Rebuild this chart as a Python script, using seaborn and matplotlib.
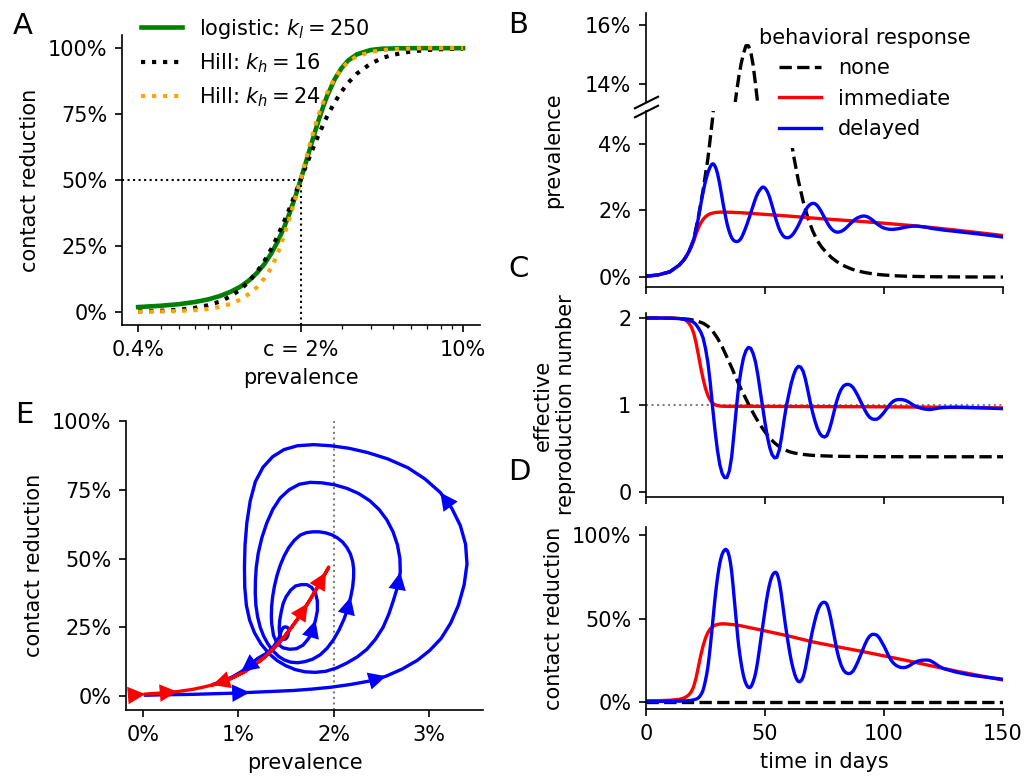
import matplotlib
matplotlib.use("Agg")
import matplotlib.pyplot as plt
from matplotlib.ticker import PercentFormatter, LogLocator, NullFormatter
import seaborn as sns
import numpy as np

plt.rcParams.update({"font.family": "DejaVu Sans", "font.size": 10})

# ---------------- data ----------------
# A: contact reduction as a function of prevalence (prevalence in %)
prev_a = [0.4, 0.5, 0.6, 0.7, 0.8, 0.9, 1.0, 1.1, 1.2, 1.3, 1.4, 1.5, 1.6, 1.7, 1.8, 1.9, 2.0,
          2.1, 2.2, 2.3, 2.4, 2.5, 2.6, 2.8, 3.0, 3.2, 3.5, 4.0, 4.5, 5.0, 6.0, 7.0, 8.0, 10.0]
logistic_a = [0.018, 0.023, 0.029, 0.037, 0.047, 0.060, 0.076, 0.095, 0.119, 0.148, 0.182, 0.223,
              0.269, 0.321, 0.378, 0.438, 0.5, 0.562, 0.622, 0.679, 0.731, 0.777, 0.818, 0.881,
              0.924, 0.953, 0.977, 0.993, 0.998, 0.999, 1.0, 1.0, 1.0, 1.0]
hill16_a = [0.002, 0.004, 0.008, 0.015, 0.025, 0.039, 0.059, 0.084, 0.115, 0.152, 0.194, 0.240,
            0.291, 0.343, 0.396, 0.449, 0.5, 0.549, 0.594, 0.636, 0.675, 0.709, 0.741, 0.794,
            0.835, 0.868, 0.904, 0.941, 0.963, 0.975, 0.988, 0.993, 0.996, 0.998]
hill24_a = [0.0, 0.001, 0.003, 0.006, 0.011, 0.019, 0.030, 0.046, 0.068, 0.094, 0.128, 0.168,
            0.225, 0.29, 0.36, 0.43, 0.5, 0.572, 0.64, 0.70, 0.752, 0.795, 0.83, 0.885,
            0.922, 0.948, 0.97, 0.985, 0.993, 0.996, 0.999, 1.0, 1.0, 1.0]

# no behavioral response
t_none = [0, 5, 10, 14, 16, 18, 20, 22, 24, 26, 28, 30, 32, 34, 36,
          37, 38, 39, 40, 41, 42, 43, 44, 45, 46, 47, 48,
          50, 52, 54, 56, 58, 60, 62, 64, 66, 68, 70, 72, 74, 76, 78, 80, 82, 84, 86, 88,
          90, 92, 94, 96, 98, 100,
          105, 110, 120, 130, 140, 150]
prev_none = [0.025, 0.06, 0.155, 0.36, 0.52, 0.76, 1.12, 1.80, 2.62, 3.55, 4.78, 6.4, 8.35, 10.4, 12.3,
             13.05, 13.7, 14.25, 14.7, 15.05, 15.3, 15.3, 15.1, 14.65, 14.0, 13.3, 12.6,
             11.1, 9.6, 8.15, 6.8, 5.6, 4.55, 3.65, 2.9, 2.28, 1.78, 1.39, 1.09, 0.88, 0.72, 0.58,
             0.47, 0.38, 0.31, 0.25, 0.20, 0.165, 0.135, 0.11, 0.09, 0.073, 0.06,
             0.036, 0.022, 0.008, 0.003, 0.001, 0.0004]
reff_none = [2.0, 2.0, 1.998, 1.995, 1.99, 1.985, 1.975, 1.96, 1.94, 1.905, 1.85, 1.77, 1.67, 1.55, 1.43,
             1.365, 1.30, 1.24, 1.18, 1.125, 1.07, 1.015, 0.96, 0.91, 0.86, 0.815, 0.77,
             0.69, 0.62, 0.565, 0.52, 0.49, 0.465, 0.45, 0.44, 0.432, 0.426, 0.421, 0.418, 0.416,
             0.414, 0.412, 0.411, 0.410, 0.409, 0.409, 0.408, 0.408, 0.407, 0.407, 0.407, 0.406, 0.406,
             0.406, 0.405, 0.405, 0.405, 0.405, 0.405]
t_none_cr = [0, 150]
cr_none = [0.0, 0.0]

# immediate response
t_imm = [0, 5, 10, 14,
         16, 17, 18, 19, 20, 21, 22, 23, 24, 25, 26, 27, 28, 29, 30, 31, 32, 33, 34,
         36, 38, 40, 45, 50,
         60, 70, 80, 90, 100, 110, 120, 130, 140, 150, 160, 170, 180, 190, 200]
prev_imm = [0.025, 0.06, 0.155, 0.36,
            0.52, 0.63, 0.76, 0.90, 1.08, 1.28, 1.47, 1.62, 1.73, 1.81, 1.865, 1.90, 1.92, 1.935,
            1.943, 1.947, 1.948, 1.948, 1.947,
            1.943, 1.937, 1.93, 1.905, 1.88,
            1.83, 1.77, 1.72, 1.67, 1.615, 1.555, 1.485, 1.41, 1.33, 1.245, 1.155, 1.05, 0.95, 0.84, 0.73]
cr_imm = [0.007, 0.008, 0.010, 0.016,
          0.024, 0.032, 0.043, 0.060, 0.091, 0.142, 0.210, 0.279, 0.337, 0.383, 0.416, 0.438, 0.450,
          0.460, 0.464, 0.467, 0.468, 0.468, 0.467,
          0.464, 0.461, 0.456, 0.441, 0.426,
          0.395, 0.360, 0.332, 0.305, 0.276, 0.247, 0.216, 0.186, 0.158, 0.132, 0.108, 0.085, 0.068,
          0.052, 0.040]
reff_imm = [2.0, 2.0, 1.998, 1.995,
            1.985, 1.97, 1.94, 1.90, 1.83, 1.72, 1.58, 1.43, 1.30, 1.19, 1.11, 1.055, 1.02, 1.003,
            0.993, 0.988, 0.986, 0.985, 0.985,
            0.985, 0.985, 0.985, 0.985, 0.984,
            0.983, 0.982, 0.981, 0.980, 0.979, 0.977, 0.975, 0.972, 0.969, 0.966, 0.962, 0.958,
            0.953, 0.948, 0.943]

# delayed response: prevalence and contact reduction (half-day steps while it oscillates fast)
t_del = ([0, 5, 10, 14, 16, 17, 18, 19, 20] + [21 + 0.5 * k for k in range(121)]
         + list(range(82, 126)) + [130, 135, 140, 145, 150, 160, 170, 180, 190, 200])
prev_del = [0.025, 0.06, 0.155, 0.36, 0.52, 0.63, 0.76, 0.92, 1.12,
            1.40, 1.577, 1.77, 1.975, 2.18, 2.37, 2.55, 2.72, 2.88, 3.01,
            3.13, 3.23, 3.31, 3.37, 3.40, 3.385, 3.33, 3.24, 3.12, 2.96,
            2.78, 2.57, 2.36, 2.16, 1.97, 1.79, 1.62, 1.48, 1.36, 1.26,
            1.18, 1.125, 1.09, 1.071, 1.065, 1.068, 1.085, 1.119, 1.17, 1.239,
            1.32, 1.407, 1.50, 1.598, 1.70, 1.809, 1.92, 2.031, 2.14, 2.248,
            2.35, 2.441, 2.52, 2.581, 2.63, 2.674, 2.70, 2.696, 2.67, 2.624,
            2.56, 2.478, 2.38, 2.265, 2.14, 2.01, 1.88, 1.756, 1.64, 1.534,
            1.44, 1.363, 1.30, 1.248, 1.21, 1.189, 1.18, 1.178, 1.185, 1.203,
            1.23, 1.266, 1.31, 1.362, 1.42, 1.483, 1.55, 1.623, 1.70, 1.781,
            1.86, 1.933, 2.00, 2.059, 2.11, 2.15, 2.18, 2.20, 2.21, 2.211,
            2.20, 2.176, 2.14, 2.094, 2.04, 1.983, 1.92, 1.851, 1.78, 1.714,
            1.65, 1.588, 1.53, 1.481, 1.44, 1.406, 1.38, 1.361, 1.35, 1.347,
            1.35,
            1.37, 1.41, 1.47, 1.54, 1.61, 1.68, 1.74, 1.78, 1.81, 1.83,
            1.83, 1.81, 1.77, 1.72, 1.66, 1.60, 1.55, 1.50, 1.47, 1.45,
            1.435, 1.43, 1.432, 1.44, 1.45, 1.465, 1.48, 1.495, 1.51, 1.52,
            1.527, 1.53, 1.528, 1.52, 1.51, 1.50, 1.49, 1.475, 1.46, 1.45,
            1.44, 1.43, 1.42, 1.41,
            1.37, 1.33, 1.29, 1.245, 1.20, 1.12, 1.03, 0.94, 0.84, 0.74]
cr_del = [0.003, 0.003, 0.004, 0.005, 0.006, 0.007, 0.008, 0.010, 0.013,
          0.017, 0.020, 0.025, 0.032, 0.042, 0.054, 0.072, 0.098, 0.13, 0.166,
          0.21, 0.266, 0.33, 0.404, 0.48, 0.552, 0.62, 0.683, 0.74, 0.789,
          0.83, 0.862, 0.885, 0.901, 0.91, 0.914, 0.91, 0.896, 0.87, 0.832,
          0.78, 0.709, 0.63, 0.549, 0.47, 0.396, 0.33, 0.276, 0.23, 0.189,
          0.155, 0.129, 0.11, 0.096, 0.088, 0.086, 0.09, 0.102, 0.12, 0.142,
          0.17, 0.207, 0.25, 0.299, 0.35, 0.40, 0.45, 0.50, 0.55, 0.597,
          0.64, 0.678, 0.71, 0.736, 0.755, 0.768, 0.775, 0.777, 0.77, 0.75,
          0.72, 0.679, 0.63, 0.576, 0.52, 0.469, 0.42, 0.374, 0.33, 0.288,
          0.25, 0.218, 0.19, 0.165, 0.145, 0.131, 0.123, 0.121, 0.125, 0.134,
          0.15, 0.174, 0.205, 0.241, 0.28, 0.32, 0.36, 0.396, 0.43, 0.461,
          0.49, 0.517, 0.54, 0.56, 0.575, 0.586, 0.593, 0.597, 0.597, 0.594,
          0.585, 0.566, 0.54, 0.509, 0.475, 0.438, 0.40, 0.362, 0.325, 0.293,
          0.265,
          0.22, 0.19, 0.175, 0.17, 0.172, 0.185, 0.21, 0.24, 0.275, 0.31,
          0.345, 0.375, 0.395, 0.405, 0.405, 0.40, 0.385, 0.36, 0.335, 0.305,
          0.275, 0.25, 0.232, 0.22, 0.212, 0.207, 0.206, 0.207, 0.212, 0.22,
          0.23, 0.238, 0.244, 0.248, 0.25, 0.251, 0.251, 0.25, 0.243, 0.235,
          0.225, 0.215, 0.207, 0.20,
          0.18, 0.165, 0.154, 0.145, 0.136, 0.112, 0.088, 0.07, 0.055, 0.043]

# delayed response: effective reproduction number (daily)
t_del_r = [0, 5, 10, 14] + list(range(16, 126)) + [130, 135, 140, 145, 150, 160, 170, 180, 190, 200]
reff_del = [2.0, 2.0, 1.998, 1.993,
            1.985, 1.98, 1.975, 1.965, 1.95, 1.925, 1.885, 1.84, 1.77, 1.65,
            1.49, 1.255, 0.97, 0.707, 0.483, 0.315, 0.213, 0.166, 0.166, 0.24,
            0.405, 0.68, 0.973, 1.229, 1.41, 1.546, 1.625, 1.662, 1.652, 1.593,
            1.496, 1.346, 1.161, 0.978, 0.797, 0.634, 0.509, 0.428, 0.392, 0.399,
            0.484, 0.637, 0.824, 0.992, 1.12, 1.248, 1.343, 1.413, 1.444, 1.436,
            1.39, 1.295, 1.168, 1.034, 0.916, 0.815, 0.732, 0.673, 0.641, 0.632,
            0.648, 0.714, 0.81, 0.922, 1.032, 1.118, 1.18, 1.219, 1.235, 1.237,
            1.227, 1.201, 1.158, 1.108, 1.052, 0.995, 0.94, 0.892, 0.858, 0.84,
            0.835, 0.837, 0.854, 0.883, 0.915, 0.952, 0.99, 1.022, 1.045, 1.058,
            1.063, 1.063, 1.06, 1.053, 1.04, 1.023, 1.004, 0.989, 0.977, 0.967,
            0.96, 0.954, 0.95, 0.948, 0.95, 0.955, 0.96, 0.965, 0.968, 0.97,
            0.975, 0.972, 0.968, 0.963, 0.958, 0.953, 0.948, 0.943, 0.938, 0.933]

# days at which direction arrows sit in panel E
arrow_days_del = [20, 24, 30, 49, 69, 90, 170]
arrow_days_imm = [0, 14, 24, 28, 200]

# ---------------- layout ----------------
W, H = 1025, 778


def box(left, top, right, bottom):
    return [left / W, 1 - bottom / H, (right - left) / W, (bottom - top) / H]


fig = plt.figure(figsize=(W / 150, H / 150), dpi=150)
axA = fig.add_axes(box(122, 35, 480, 325))
axB2 = fig.add_axes(box(646, 110.5, 1003, 287))
axB1 = fig.add_axes(box(646, 13, 1003, 102))
axC = fig.add_axes(box(646, 313, 1003, 497))
axD = fig.add_axes(box(646, 527, 1003, 709))
axE = fig.add_axes(box(126, 421, 483, 710))

for ax in [axA, axB1, axB2, axC, axD, axE]:
    ax.spines[["top", "right"]].set_visible(False)

pct1 = PercentFormatter(1.0, decimals=0)
pct100 = PercentFormatter(100, decimals=0)
lw = 1.6

# ---------------- A ----------------
axA.set_xscale("log")
sns.lineplot(x=prev_a, y=logistic_a, ax=axA, color="green", lw=2.2, errorbar=None, legend=False,
             label=r"logistic: $k_l = 250$")
sns.lineplot(x=prev_a, y=hill16_a, ax=axA, color="black", lw=2, ls=":", errorbar=None, legend=False,
             label=r"Hill: $k_h = 16$")
sns.lineplot(x=prev_a, y=hill24_a, ax=axA, color="orange", lw=2, ls=":", errorbar=None, legend=False,
             label=r"Hill: $k_h = 24$")
axA.set_xlim(0.341, 11.83)
axA.set_ylim(-0.05, 1.05)
axA.hlines(0.5, axA.get_xlim()[0], 2, color="black", ls=":", lw=1)
axA.vlines(2, axA.get_ylim()[0], 0.5, color="black", ls=":", lw=1)
axA.set_xticks([0.4, 2, 10], labels=["0.4%", "c = 2%", "10%"])
axA.xaxis.set_minor_locator(LogLocator(base=10, subs=np.arange(1, 10), numticks=20))
axA.xaxis.set_minor_formatter(NullFormatter())
axA.set_yticks([0, 0.25, 0.5, 0.75, 1.0])
axA.yaxis.set_major_formatter(pct1)
axA.set_xlabel("prevalence")
axA.set_ylabel("contact reduction")
axA.legend(loc="upper left", bbox_to_anchor=(0, 1.128), frameon=False)

# ---------------- B (broken axis) ----------------
for ax in [axB1, axB2]:
    sns.lineplot(x=t_none, y=prev_none, ax=ax, color="black", lw=lw, ls="--", errorbar=None,
                 legend=False, label="none")
    sns.lineplot(x=t_imm, y=prev_imm, ax=ax, color="red", lw=lw, errorbar=None, legend=False,
                 label="immediate")
    sns.lineplot(x=t_del, y=prev_del, ax=ax, color="blue", lw=lw, errorbar=None, legend=False,
                 label="delayed")
    ax.set_xlim(0, 150)
    ax.yaxis.set_major_formatter(pct100)
axB1.set_ylim(13.39, 16.41)
axB1.set_yticks([14, 16])
axB1.spines["bottom"].set_visible(False)
axB1.tick_params(axis="x", which="both", bottom=False, labelbottom=False)
axB1.set_zorder(axB2.get_zorder() + 1)
axB1.patch.set_alpha(0)
axB2.set_ylim(-0.3, 5.0)
axB2.set_yticks([0, 2, 4])
axB2.set_xticks([0, 50, 100, 150])
axB2.tick_params(labelbottom=False)
axB2.set_ylabel("prevalence")
axB2.yaxis.set_label_coords(-0.231, 0.776)

brk = dict(marker=[(-1, -0.5), (1, 0.5)], markersize=12, linestyle="none", color="k",
           mec="k", mew=1, clip_on=False)
axB1.plot([0], [0], transform=axB1.transAxes, **brk)
axB2.plot([0], [1], transform=axB2.transAxes, **brk)

handles, labels = axB2.get_legend_handles_labels()
axB2.legend(handles, labels, title="behavioral response", loc="upper left",
            bbox_to_anchor=(740 / W, 1 - 9 / H), bbox_transform=fig.transFigure,
            facecolor="white", edgecolor="white", framealpha=1)

# ---------------- C ----------------
axC.axhline(1, color="gray", ls=":", lw=1)
sns.lineplot(x=t_none, y=reff_none, ax=axC, color="black", lw=lw, ls="--", errorbar=None, legend=False)
sns.lineplot(x=t_imm, y=reff_imm, ax=axC, color="red", lw=lw, errorbar=None, legend=False)
sns.lineplot(x=t_del_r, y=reff_del, ax=axC, color="blue", lw=lw, errorbar=None, legend=False)
axC.set_xlim(0, 150)
axC.set_ylim(-0.0575, 2.0575)
axC.set_yticks([0, 1, 2])
axC.set_xticks([0, 50, 100, 150])
axC.tick_params(labelbottom=False)
axC.set_ylabel("effective\nreproduction number")
axC.yaxis.set_label_coords(-0.195, 0.5)

# ---------------- D ----------------
sns.lineplot(x=t_none_cr, y=cr_none, ax=axD, color="black", lw=lw, ls="--", errorbar=None, legend=False)
sns.lineplot(x=t_imm, y=cr_imm, ax=axD, color="red", lw=lw, errorbar=None, legend=False)
sns.lineplot(x=t_del, y=cr_del, ax=axD, color="blue", lw=lw, errorbar=None, legend=False)
axD.set_xlim(0, 150)
axD.set_ylim(-0.042, 1.048)
axD.set_yticks([0, 0.5, 1.0])
axD.yaxis.set_major_formatter(pct1)
axD.set_xticks([0, 50, 100, 150])
axD.set_xlabel("time in days")
axD.set_ylabel("contact reduction")
axD.yaxis.set_label_coords(-0.231, 0.5)

# ---------------- E (phase plane) ----------------
axE.axvline(2, color="gray", ls=":", lw=1)
sns.lineplot(x=prev_del, y=cr_del, ax=axE, color="blue", lw=lw, sort=False, estimator=None,
             errorbar=None, legend=False)
sns.lineplot(x=prev_imm, y=cr_imm, ax=axE, color="red", lw=lw, sort=False, estimator=None,
             errorbar=None, legend=False)


def add_arrow(ax, xs, ys, i, color):
    if i > 0:
        x0, y0 = xs[i - 1], ys[i - 1]
    else:
        x0, y0 = 2 * xs[0] - xs[1], 2 * ys[0] - ys[1]
    ax.annotate("", xy=(xs[i], ys[i]), xytext=(x0, y0),
                arrowprops=dict(arrowstyle="-|>", color=color, lw=0, mutation_scale=21,
                                shrinkA=0, shrinkB=0))


for d in arrow_days_del:
    add_arrow(axE, prev_del, cr_del, t_del.index(d), "blue")
for d in arrow_days_imm:
    add_arrow(axE, prev_imm, cr_imm, t_imm.index(d), "red")

axE.set_xlim(-0.178, 3.568)
axE.set_ylim(-0.0509, 1.0)
axE.set_xticks([0, 1, 2, 3])
axE.xaxis.set_major_formatter(pct100)
axE.set_yticks([0, 0.25, 0.5, 0.75, 1.0])
axE.yaxis.set_major_formatter(pct1)
axE.set_xlabel("prevalence")
axE.set_ylabel("contact reduction")

# panel letters
for letter, x, y in [("A", 13, 34), ("B", 508, 33), ("C", 508, 277), ("D", 508, 480), ("E", 15, 423)]:
    fig.text(x / W, 1 - y / H, letter, fontsize=14, ha="left", va="baseline")

fig.savefig("out.png", dpi=150)
